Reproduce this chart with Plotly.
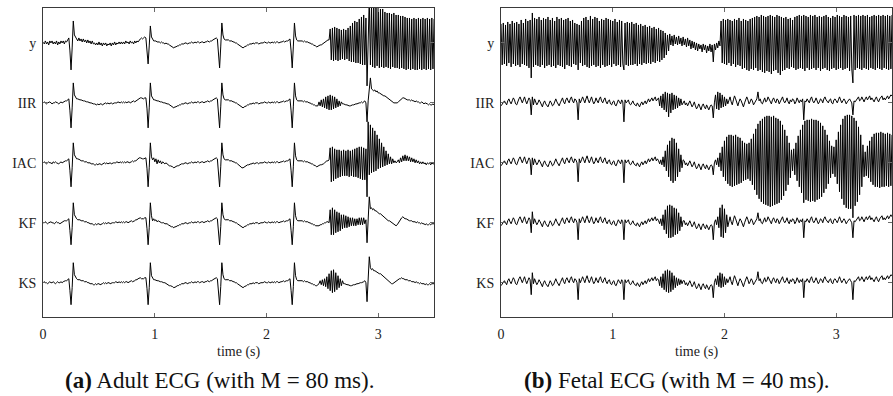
import numpy as np
import plotly.graph_objects as go

# ---------------- data (amplitudes in plot units: 60 = one channel spacing) ----------
SAMPLE_STEP = 0.01  # seconds per sample
CHANNELS = ["y", "IIR", "IAC", "KF", "KS"]
X_TICKS = [0, 1, 2, 3]
CAPTION_A = "<b>(a)</b> Adult ECG (with M = 80 ms)."
CAPTION_B = "<b>(b)</b> Fetal ECG (with M = 40 ms)."
X_LABEL = "time (s)"

adult_y = [
    1,-1,2,-1,1,-2,2,0,2,-1,
    1,-1,2,-2,1,-1,2,0,2,-1,
    2,1,3,5,-8,-27,-5,22,8,5,
    4,2,5,2,4,1,4,1,3,0,
    3,0,2,-1,2,-1,0,-2,0,-2,
    1,-2,0,-3,0,-2,0,-3,-1,-2,
    0,-3,0,-2,1,-2,0,-1,1,-1,
    1,-1,1,-1,2,0,1,-1,2,0,
    1,-1,2,0,2,1,3,4,5,4,
    5,6,5,-5,-21,-3,17,6,3,2,
    2,2,1,1,1,0,1,0,0,-1,
    0,-1,-1,-2,-3,-4,-4,-5,-4,-4,
    -3,-3,-2,-2,-1,-1,-1,0,0,-1,
    0,0,0,1,0,0,1,0,1,1,
    0,1,1,1,0,1,1,2,1,1,
    2,2,3,4,4,5,4,-8,-25,-4,
    20,8,4,3,3,3,3,2,2,2,
    1,1,0,0,-1,-2,-3,-4,-5,-5,
    -4,-3,-3,-2,-2,-1,-1,-1,0,-1,
    0,0,0,-1,0,0,0,0,1,0,
    0,0,1,0,0,1,0,1,0,1,
    1,0,1,1,1,2,1,2,2,2,
    3,4,-8,-25,-4,20,7,3,2,2,
    2,2,2,1,2,1,1,1,0,0,
    -1,-1,-2,-3,-3,-4,-3,-3,-2,-2,
    -1,-1,0,1,2,3,3,14,-17,15,
    -18,16,-17,15,-18,14,-17,13,-16,14,
    -17,13,-16,15,-18,17,-19,20,-19,22,
    -20,21,-20,24,-21,26,-22,28,-22,25,
    -43,10,45,-22,38,-24,36,-25,35,-23,
    35,-25,34,-24,34,-25,31,-24,30,-25,
    30,-26,29,-24,30,-25,28,-25,28,-26,
    27,-25,27,-26,26,-27,25,-26,25,-27,
    24,-26,25,-27,24,-27,25,-26,24,-27,
    25,-26,24,-27,25,-26,24,-27,25,-26,
    24,
]

adult_iir = [
    0,1,0,-1,0,1,1,0,-1,0,
    0,1,0,0,-1,0,1,0,1,1,
    2,2,3,4,-8,-25,-5,20,8,5,
    4,4,3,3,3,2,2,2,1,1,
    1,0,0,0,-1,-1,-1,-2,-2,-1,
    -2,-1,-1,-2,-1,-1,0,-1,0,-1,
    0,0,-1,0,0,0,0,1,0,0,
    1,0,1,0,1,0,1,1,0,1,
    1,2,1,2,2,3,4,5,5,4,
    4,5,5,-6,-25,-5,20,7,4,3,
    3,2,2,2,1,1,1,0,0,0,
    -1,-1,-1,-2,-3,-4,-4,-5,-4,-4,
    -3,-3,-2,-2,-1,-1,-1,0,0,-1,
    0,0,0,1,0,0,1,0,1,1,
    0,1,1,1,0,1,1,2,1,1,
    2,2,3,4,4,5,4,-8,-25,-4,
    20,8,4,3,3,3,3,2,2,2,
    1,1,0,0,-1,-2,-3,-4,-5,-5,
    -4,-3,-3,-2,-2,-1,-1,-1,0,-1,
    0,0,0,-1,0,0,0,0,1,0,
    0,0,1,0,0,1,0,1,0,1,
    1,0,1,1,1,2,1,2,2,2,
    3,4,-8,-25,-4,20,7,3,2,2,
    2,2,2,1,2,1,1,1,0,0,
    -1,-1,-2,-2,-3,-3,-3,1,-3,3,
    -4,4,-5,6,-6,7,-7,8,-7,7,
    -6,6,-5,4,-4,2,-3,1,-1,-1,
    -2,-2,-2,-3,-3,-3,-2,-2,-2,-1,
    -1,-1,0,0,0,1,0,1,2,0,
    -19,2,18,25,14,13,12,13,11,12,
    10,10,9,9,8,7,7,6,5,4,
    3,2,1,1,0,0,0,0,1,2,
    3,4,5,5,4,4,3,3,3,2,
    3,2,2,1,2,1,1,0,0,1,
    0,-1,0,-1,-1,-2,-1,-2,-2,-1,
    -2,
]

adult_iac = [
    0,1,0,-1,0,1,0,0,-1,1,
    0,1,0,-1,-1,0,1,0,1,2,
    2,2,3,4,-8,-24,-5,20,8,5,
    4,4,3,3,2,2,2,1,1,1,
    0,0,0,-1,-1,-1,-2,-2,-1,-2,
    -1,-1,-2,-1,-1,0,-1,0,-1,0,
    0,-1,0,0,0,0,1,0,0,1,
    0,1,0,1,0,1,1,0,1,1,
    2,1,2,2,3,4,5,5,4,4,
    4,5,5,-6,-24,-5,20,6,3,5,
    1,4,-1,3,0,2,-1,1,0,-1,
    0,-1,-2,-3,-3,-4,-4,-5,-4,-4,
    -3,-3,-2,-2,-1,-1,-1,0,0,-1,
    0,0,0,1,0,0,1,0,1,1,
    0,1,1,1,0,1,1,2,1,1,
    2,2,3,4,4,5,4,-8,-24,-4,
    20,8,4,3,3,3,3,2,2,2,
    1,1,0,0,-1,-2,-3,-4,-5,-5,
    -4,-3,-3,-2,-2,-1,-1,-1,0,-1,
    0,0,0,-1,0,0,0,0,1,0,
    0,0,1,0,0,1,0,1,0,1,
    1,0,1,1,1,2,1,2,2,2,
    3,4,-8,-24,-4,20,7,3,2,2,
    2,2,2,1,2,1,1,1,0,0,
    -1,-1,-2,-3,-3,-4,-3,-3,-2,-2,
    -1,-1,0,1,2,2,3,15,-19,16,
    -18,14,-16,13,-15,13,-14,12,-13,13,
    -13,12,-13,13,-14,12,-13,13,-14,14,
    -14,15,-15,16,-16,16,-17,15,-17,14,
    -34,41,-12,38,-10,35,-9,32,-8,28,
    -6,24,-5,20,-4,16,-3,12,-2,9,
    -1,6,-1,4,0,2,0,1,3,0,
    5,1,7,2,8,2,7,2,6,1,
    5,1,4,0,3,0,2,-1,1,-1,
    1,-1,0,-2,0,-1,0,-2,0,-1,
    -1,
]

adult_kf = [
    0,0,1,0,-1,0,1,1,0,0,
    -1,0,1,0,0,-1,0,1,1,2,
    2,2,3,4,-8,-22,-5,20,8,5,
    4,3,3,3,2,2,2,1,1,1,
    0,0,-1,-1,-1,-2,-2,-1,-2,-1,
    -1,-2,-1,-1,0,-1,0,-1,0,0,
    -1,0,0,0,0,1,0,0,1,0,
    1,0,1,0,1,1,0,1,1,2,
    1,2,2,3,3,4,5,5,4,4,
    4,5,5,-6,-22,-5,20,7,2,4,
    2,3,1,2,1,1,0,0,0,-1,
    -1,-1,-2,-3,-3,-4,-4,-5,-4,-4,
    -3,-3,-2,-2,-1,-1,-1,0,0,-1,
    0,0,0,1,0,0,1,0,1,1,
    0,1,1,1,0,1,1,2,1,1,
    2,2,3,4,4,5,4,-8,-22,-4,
    20,8,4,3,3,3,3,2,2,2,
    1,1,0,0,-1,-2,-3,-4,-5,-5,
    -4,-3,-3,-2,-2,-1,-1,-1,0,-1,
    0,0,0,-1,0,0,0,0,1,0,
    0,0,1,0,0,1,0,1,0,1,
    1,0,1,1,1,2,1,2,2,2,
    3,4,-8,-22,-4,20,7,3,2,2,
    2,2,2,1,2,1,1,1,0,0,
    -1,-1,-2,-2,-3,-3,-3,-3,-2,-2,
    -1,-1,0,0,1,1,0,13,-12,15,
    -12,13,-10,11,-9,10,-8,8,-6,8,
    -5,7,-5,6,-4,5,-3,5,-3,4,
    -3,4,-2,5,-2,5,-2,5,-1,3,
    -20,4,26,14,15,13,14,12,12,11,
    10,9,9,8,7,6,5,4,3,2,
    2,1,1,0,-1,-2,-3,-2,0,2,
    4,5,6,5,4,4,3,3,2,2,
    2,1,1,1,0,1,0,0,-1,0,
    -1,-1,-2,-1,-2,-2,-1,-2,-1,-1,
    -1,
]

adult_ks = [
    0,1,0,0,-1,0,1,0,0,1,
    0,-1,0,1,0,0,1,0,1,2,
    2,2,3,4,-8,-22,-5,20,8,5,
    4,3,3,3,2,2,2,1,1,1,
    0,0,-1,-1,-1,-2,-2,-1,-2,-1,
    -1,-2,-1,-1,0,-1,0,-1,0,0,
    -1,0,0,0,0,1,0,0,1,0,
    1,0,1,0,1,1,0,1,1,2,
    1,2,2,3,3,4,5,5,4,4,
    4,5,5,-6,-22,-5,20,7,4,3,
    3,2,2,2,1,1,1,0,0,0,
    -1,-1,-2,-3,-3,-4,-4,-5,-4,-4,
    -3,-3,-2,-2,-1,-1,-1,0,0,-1,
    0,0,0,1,0,0,1,0,1,1,
    0,1,1,1,0,1,1,2,1,1,
    2,2,3,4,4,5,4,-8,-22,-4,
    20,8,4,3,3,3,3,2,2,2,
    1,1,0,0,-1,-2,-3,-4,-5,-5,
    -4,-3,-3,-2,-2,-1,-1,-1,0,-1,
    0,0,0,-1,0,0,0,0,1,0,
    0,0,1,0,0,1,0,1,0,1,
    1,0,1,1,1,2,1,2,2,2,
    3,4,-8,-22,-4,20,7,3,2,2,
    2,2,2,1,2,1,1,1,0,0,
    -1,-1,-2,-2,-3,-3,-2,-1,2,-2,
    3,-3,4,-4,6,-6,9,-8,12,-10,
    13,-9,10,-7,7,-5,4,-3,2,-1,
    -1,-2,-2,-2,-3,-3,-3,-2,-2,-2,
    -1,-1,-1,0,0,0,1,1,2,0,
    -19,2,26,15,13,14,12,12,11,10,
    10,9,9,8,7,6,5,4,3,2,
    1,0,-1,-1,0,0,1,2,3,4,
    4,5,4,4,3,3,3,2,2,2,
    1,1,1,0,1,0,0,-1,0,-1,
    -1,-1,-2,-1,-2,-2,-1,-2,-1,-1,
    -1,
]

fetal_y = [
    19,-22,20,-21,18,-23,21,-20,19,-24,
    22,-21,20,-23,21,-22,19,-24,23,-21,
    20,-22,24,-23,22,-25,23,-35,30,-24,
    25,-22,24,-23,26,-24,23,-22,25,-25,
    24,-23,26,-22,23,-24,25,-23,22,-25,
    26,-22,24,-23,25,-24,23,-26,24,-22,
    25,-23,22,-24,23,-21,20,-22,19,-27,
    18,-20,22,-23,25,-22,26,-24,23,-25,
    27,-23,24,-22,26,-24,25,-23,22,-25,
    24,-22,23,-24,25,-23,24,-22,23,-24,
    22,-21,24,-23,21,-22,23,-24,22,-21,
    -27,20,-22,21,-23,20,-22,21,-22,19,
    -21,20,-23,18,-21,19,-22,17,-20,18,
    -21,16,-20,17,-21,15,-19,16,-20,14,
    -18,15,-19,13,-17,12,-15,10,-12,8,
    -8,9,-2,7,-3,8,-1,6,-2,7,
    -1,5,-3,6,-2,4,-4,5,-3,3,
    -6,2,-5,1,-7,0,-8,-1,-6,-2,
    -9,-1,-7,-2,-10,-3,-8,-1,-9,-2,
    -19,-1,-7,0,-5,2,-3,22,-20,24,
    -21,23,-22,24,-20,23,-23,22,-21,24,
    -24,23,-22,25,-23,22,-26,24,-25,23,
    -27,22,-28,24,-26,25,-27,26,-25,27,
    -28,26,-27,28,-29,27,-30,26,-28,27,
    -29,28,-31,27,-28,26,-27,28,-30,27,
    -32,26,-28,25,-27,26,-25,24,-26,25,
    -24,23,-25,26,-27,27,-26,28,-25,27,
    -26,28,-28,27,-25,26,-27,28,-26,27,
    -25,28,-27,26,-25,27,-28,26,-26,27,
    -25,28,-27,26,-28,25,-26,27,-25,26,
    -27,28,-26,27,-25,26,-27,28,-26,27,
    -25,26,-28,27,-26,-40,28,-27,27,-25,
    28,-26,27,-27,28,-25,27,-26,28,-27,
    26,-25,27,-26,28,-27,27,-25,28,-26,
    27,-27,28,-25,27,-26,28,-27,27,-26,
    28,
]

fetal_iir = [
    -3,-1,1,2,0,-2,2,4,1,-1,
    2,5,3,-1,-2,2,4,6,3,0,
    3,6,2,-1,2,5,3,-12,6,-2,
    4,1,-2,0,3,1,-2,-4,0,2,
    -1,-3,-4,-1,2,0,-3,-2,2,4,
    1,-1,-3,0,3,5,1,-1,3,5,
    2,0,4,6,2,0,4,3,0,-17,
    4,0,3,6,3,0,4,7,3,0,
    3,6,2,-1,1,5,2,0,4,6,
    2,0,3,5,1,-1,2,3,-1,-2,
    1,2,-2,-3,0,3,1,-1,3,1,
    -19,3,0,2,3,-1,-2,0,2,-1,
    -2,-3,0,-2,-4,-1,1,-2,0,2,
    -1,2,4,1,3,5,2,4,6,2,
    4,5,-3,7,-5,9,-7,11,-9,10,
    -14,9,-10,10,-7,8,-6,7,-5,5,
    -3,4,-2,1,2,-2,0,-3,-1,2,
    -1,-4,-2,1,-3,-6,-4,-1,-4,-7,
    -3,-1,-4,-6,-2,-4,-7,-4,-2,-3,
    -15,0,8,-6,11,-7,10,-5,8,-4,
    6,-3,4,-1,3,6,1,-2,3,7,
    4,0,-3,1,4,2,-2,-4,0,3,
    6,3,-1,1,4,2,-2,0,3,4,
    11,2,4,0,-1,3,5,1,2,6,
    3,0,-1,3,5,2,0,4,3,-1,
    1,4,6,2,0,2,5,1,-1,3,
    1,4,3,-1,1,5,3,0,3,1,
    4,-17,2,1,4,2,0,4,6,2,
    0,2,5,2,-1,1,4,3,0,4,
    6,3,1,0,3,4,0,-1,3,4,
    2,0,3,6,3,0,2,4,2,-1,
    1,3,4,2,0,-12,2,1,3,5,
    6,2,3,6,4,1,4,6,3,5,
    7,3,5,3,1,4,6,3,1,4,
    6,7,3,5,3,5,7,4,6,8,
    7,
]

fetal_iac = [
    -3,-1,1,2,0,-2,2,4,1,-1,
    2,5,3,-1,-2,2,4,6,3,0,
    3,6,2,-1,2,5,3,-12,5,-2,
    4,1,-2,0,3,1,-2,-4,0,2,
    -1,-3,-4,-1,2,0,-3,-2,2,4,
    1,-1,-3,0,3,5,1,-1,3,5,
    2,0,4,6,2,0,4,3,0,-19,
    4,0,3,6,3,0,4,7,3,0,
    3,6,2,-1,1,5,2,0,4,6,
    2,0,3,5,1,-1,2,3,-1,-2,
    1,2,-2,-3,0,3,1,-1,3,1,
    -20,3,0,2,3,-1,-2,0,2,-1,
    -2,-3,0,-2,-4,-1,1,-2,0,2,
    -1,2,4,1,3,5,2,4,6,2,
    4,2,-1,3,-2,6,-4,12,-8,18,
    -14,22,-18,25,-20,24,-18,20,-14,14,
    -9,8,-5,3,2,-2,0,-3,-1,2,
    -1,-4,-2,1,-3,-6,-4,-1,-4,-7,
    -3,-1,-4,-6,-2,-4,-7,-4,-2,-3,
    -12,0,3,-2,5,-4,10,-8,16,-14,
    22,-18,26,-21,28,-23,28,-24,27,-23,
    28,-22,26,-21,25,-20,22,-18,20,-17,
    19,-16,20,-18,24,-22,29,-27,34,-32,
    39,-36,42,-39,44,-41,46,-42,47,-43,
    47,-44,46,-43,47,-42,45,-41,44,-40,
    42,-37,38,-33,33,-28,27,-22,20,-15,
    13,-8,14,-12,20,-18,27,-24,33,-30,
    38,-40,42,-37,43,-38,43,-39,44,-38,
    43,-39,43,-37,42,-36,40,-34,37,-30,
    33,-26,28,-21,22,-15,17,-11,16,-14,
    23,-21,31,-29,38,-36,44,-42,47,-45,
    48,-46,48,-46,47,-55,45,-43,42,-39,
    36,-32,28,-24,18,-14,11,-13,17,-15,
    22,-19,26,-22,29,-24,30,-24,30,-25,
    31,-24,30,-24,29,-23,30,-24,29,-23,
    28,
]

fetal_kf = [
    -3,-1,1,2,0,-2,2,4,1,-1,
    2,5,3,-1,-2,2,4,6,3,0,
    3,6,2,-1,2,5,3,-10,11,-1,
    4,1,-2,0,3,1,-2,-4,0,2,
    -1,-3,-4,-1,2,0,-3,-2,2,4,
    1,-1,-3,0,3,5,1,-1,3,5,
    2,0,4,6,2,0,4,3,0,-17,
    4,0,3,6,3,0,4,7,3,0,
    3,6,2,-1,1,5,2,0,4,6,
    2,0,3,5,1,-1,2,3,-1,-2,
    1,2,-2,-3,0,3,1,-1,3,1,
    -17,3,0,2,3,-1,-2,0,2,-1,
    -2,-3,0,-2,-4,-1,1,-2,0,2,
    -1,2,4,1,3,5,2,4,6,2,
    4,2,-1,4,-3,8,-7,13,-11,17,
    -15,18,-15,17,-14,15,-12,14,-11,10,
    -8,6,-4,2,2,-2,0,-3,-1,2,
    -1,-4,-2,1,-3,-6,-4,-1,-4,-7,
    -3,-1,-4,-6,-2,-4,-7,-4,-2,-3,
    -17,0,3,-2,6,-5,15,-14,18,-15,
    14,-10,8,-4,3,6,1,-2,3,7,
    4,0,-3,1,4,2,-2,-4,0,3,
    6,3,-1,1,4,2,-2,0,3,4,
    10,2,4,0,-1,3,5,1,2,6,
    3,0,-1,3,5,2,0,4,3,-1,
    1,4,6,2,0,2,5,1,-1,3,
    1,4,3,-1,1,5,3,0,3,1,
    4,-15,2,1,4,2,0,4,6,2,
    0,2,5,2,-1,1,4,3,0,4,
    6,3,1,0,3,4,0,-1,3,4,
    2,0,3,6,3,0,2,4,2,-1,
    1,3,4,2,0,-15,2,1,3,5,
    6,2,3,6,4,1,4,6,3,5,
    7,3,5,3,1,4,6,3,1,4,
    6,7,3,5,3,5,7,4,6,8,
    6,
]

fetal_ks = [
    -3,-1,1,2,0,-2,2,4,1,-1,
    2,5,3,-1,-2,2,4,6,3,0,
    3,6,2,-1,2,5,3,-12,10,-1,
    4,1,-2,0,3,1,-2,-4,0,2,
    -1,-3,-4,-1,2,0,-3,-2,2,4,
    1,-1,-3,0,3,5,1,-1,3,5,
    2,0,4,6,2,0,4,3,0,-17,
    4,0,3,6,3,0,4,7,3,0,
    3,6,2,-1,1,5,2,0,4,6,
    2,0,3,5,1,-1,2,3,-1,-2,
    1,2,-2,-3,0,3,1,-1,3,1,
    -17,3,0,2,3,-1,-2,0,2,-1,
    -2,-3,0,-2,-4,-1,1,-2,0,2,
    -1,2,4,1,3,5,2,4,6,2,
    4,3,-3,6,-5,9,-7,12,-9,13,
    -10,12,-9,10,-7,7,-5,5,-3,4,
    -2,3,-1,2,2,-2,0,-3,-1,2,
    -1,-4,-2,1,-3,-6,-4,-1,-4,-7,
    -3,-1,-4,-6,-2,-4,-7,-4,-2,-3,
    -15,0,4,-2,7,-4,10,-5,9,-4,
    6,-2,4,0,3,6,1,-2,3,7,
    4,0,-3,1,4,2,-2,-4,0,3,
    6,3,-1,1,4,2,-2,0,3,4,
    11,2,4,0,-1,3,5,1,2,6,
    3,0,-1,3,5,2,0,4,3,-1,
    1,4,6,2,0,2,5,1,-1,3,
    1,4,3,-1,1,5,3,0,3,1,
    4,-15,2,1,4,2,0,4,6,2,
    0,2,5,2,-1,1,4,3,0,4,
    6,3,1,0,3,4,0,-1,3,4,
    2,0,3,6,3,0,2,4,2,-1,
    1,3,4,2,0,-17,2,1,3,5,
    6,2,3,6,4,1,4,6,3,5,
    7,3,5,3,1,4,6,3,1,4,
    6,7,3,5,3,5,7,4,6,8,
    7,
]

# ---------------- figure ----------------
W, H = 893, 396
SCALE = 60.0                    # amplitude units per channel spacing
OFFSETS = [5, 4, 3, 2, 1]       # vertical stacking of the channels
FONT = "Liberation Serif"

panels = [
    ([adult_y, adult_iir, adult_iac, adult_kf, adult_ks], "x", "y"),
    ([fetal_y, fetal_iir, fetal_iac, fetal_kf, fetal_ks], "x2", "y2"),
]

fig = go.Figure()
for series_list, xa, ya in panels:
    for vals, off in zip(series_list, OFFSETS):
        v = np.asarray(vals, dtype=float)
        t = np.arange(len(v)) * SAMPLE_STEP
        fig.add_trace(go.Scatter(
            x=t, y=off + v / SCALE, mode="lines",
            line=dict(color="black", width=1),
            xaxis=xa, yaxis=ya, showlegend=False, hoverinfo="skip",
        ))

left_dom = [39.3 / W, 432.0 / W]
right_dom = [499.3 / W, 892.0 / W]
y_dom = [1 - 316.7 / H, 1 - 8.0 / H]

axis_common = dict(
    showline=True, linecolor="#3a3a3a", linewidth=1, mirror="ticks",
    ticks="inside", ticklen=4, tickcolor="#6a6a6a", tickwidth=1,
    showgrid=False, zeroline=False,
    tickfont=dict(family=FONT, size=14, color="#222222"),
)

xa_common = dict(axis_common, range=[0, 3.5], tickvals=X_TICKS,
                 ticktext=[str(v) for v in X_TICKS], ticklabelstandoff=4)
ya_common = dict(axis_common, range=[0.433, 5.583], tickvals=OFFSETS,
                 ticktext=CHANNELS, ticklabelstandoff=3)

fig.update_layout(
    width=W, height=H,
    margin=dict(l=0, r=0, t=0, b=0),
    paper_bgcolor="white", plot_bgcolor="white",
    xaxis=dict(xa_common, domain=left_dom, anchor="y"),
    yaxis=dict(ya_common, domain=y_dom, anchor="x"),
    xaxis2=dict(xa_common, domain=right_dom, anchor="y2"),
    yaxis2=dict(ya_common, domain=y_dom, anchor="x2"),
)

annos = []
for dom, cap, cx in [(left_dom, CAPTION_A, 216), (right_dom, CAPTION_B, 676)]:
    annos.append(dict(
        text=X_LABEL, xref="paper", yref="paper",
        x=(dom[0] + dom[1]) / 2, y=1 - 352 / H,
        xanchor="center", yanchor="middle", showarrow=False,
        font=dict(family=FONT, size=14, color="#222222"),
    ))
    annos.append(dict(
        text=cap, xref="paper", yref="paper",
        x=cx / W, y=1 - 380 / H,
        xanchor="center", yanchor="middle", showarrow=False,
        font=dict(family=FONT, size=23, color="#111111"),
    ))
fig.update_layout(annotations=annos)

fig.write_html("out.html")
